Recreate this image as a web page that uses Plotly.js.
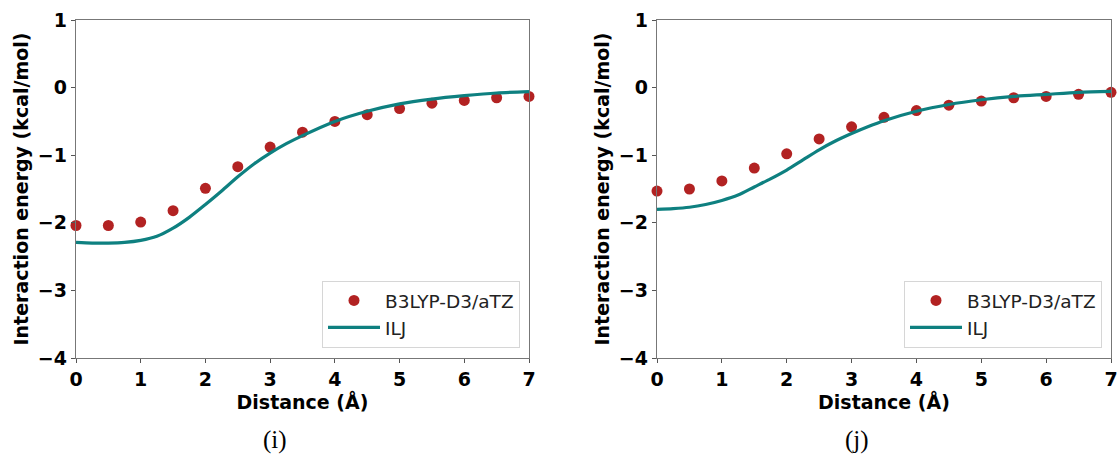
<!DOCTYPE html>
<html>
<head>
<meta charset="utf-8">
<script src="https://cdn.plot.ly/plotly-3.0.1.min.js"></script>
<style>html,body{margin:0;padding:0;background:#fff;}#chart{width:1119px;height:454px;}</style>
</head>
<body>
<div id="chart"></div>
<script>
// Distances (Å) of the B3LYP-D3/aTZ points
const distance = [0, 0.5, 1, 1.5, 2, 2.5, 3, 3.5, 4, 4.5, 5, 5.5, 6, 6.5, 7];
// Distances (Å) at which the ILJ curve was read
const curveDistance = [0, 0.25, 0.5, 0.75, 1, 1.25, 1.5, 1.75, 2, 2.25, 2.5, 2.75, 3, 3.25, 3.5, 4, 4.5, 5, 5.5, 6, 6.5, 7];

// Panel (i)
const dftI = [-2.04, -2.04, -1.99, -1.82, -1.49, -1.17, -0.88, -0.66, -0.50, -0.40, -0.31, -0.23, -0.19, -0.15, -0.13];
const iljI = [-2.29, -2.30, -2.30, -2.29, -2.26, -2.20, -2.08, -1.92, -1.73, -1.53, -1.32, -1.13, -0.97, -0.83, -0.71, -0.50, -0.35, -0.24, -0.17, -0.12, -0.08, -0.06];

// Panel (j)
const dftJ = [-1.53, -1.50, -1.38, -1.19, -0.98, -0.76, -0.58, -0.44, -0.34, -0.26, -0.20, -0.15, -0.13, -0.10, -0.07];
const iljJ = [-1.80, -1.79, -1.77, -1.73, -1.67, -1.59, -1.47, -1.35, -1.22, -1.07, -0.92, -0.79, -0.68, -0.58, -0.49, -0.35, -0.25, -0.18, -0.13, -0.10, -0.07, -0.055];

const seriesNames = ['B3LYP-D3/aTZ', 'ILJ'];
const panelLabels = ['(i)', '(j)'];
const xTicks = [0, 1, 2, 3, 4, 5, 6, 7];
const yTicks = [-4, -3, -2, -1, 0, 1];

const dotColor = '#B22222';
const lineColor = '#0E8080';

function dots(y, xa, ya, lg) {
  return {x: distance, y: y, xaxis: xa, yaxis: ya, legend: lg, type: 'scatter', mode: 'markers',
    name: seriesNames[0], marker: {color: dotColor, size: 11}, cliponaxis: false};
}
function line(y, xa, ya, lg) {
  return {x: curveDistance, y: y, xaxis: xa, yaxis: ya, legend: lg, type: 'scatter', mode: 'lines',
    name: seriesNames[1], line: {color: lineColor, width: 3.2, shape: 'spline', smoothing: 0.8}};
}

const data = [
  dots(dftI, 'x', 'y', 'legend'), line(iljI, 'x', 'y', 'legend'),
  dots(dftJ, 'x2', 'y2', 'legend2'), line(iljJ, 'x2', 'y2', 'legend2')
];

const tickFont = {family: 'DejaVu Sans', size: 19, color: '#000', weight: 'bold'};
const titleFont = {family: 'DejaVu Sans', size: 19, color: '#000', weight: 'bold'};

function xax(domain, anchor) {
  return {domain: domain, anchor: anchor, range: [0, 7], tickvals: xTicks, ticks: 'outside', ticklen: 4,
    tickcolor: '#555', showline: true, mirror: true, linecolor: '#777', linewidth: 1.2,
    showgrid: false, zeroline: false, tickfont: tickFont,
    title: {text: 'Distance (Å)', font: titleFont, standoff: 4}};
}
function yax(anchor) {
  return {anchor: anchor, range: [-4, 1], tickvals: yTicks, ticks: 'outside', ticklen: 4,
    tickcolor: '#555', showline: true, mirror: true, linecolor: '#777', linewidth: 1.2,
    showgrid: false, zeroline: false, tickfont: tickFont,
    title: {text: 'Interaction energy (kcal/mol)', font: titleFont, standoff: 4}};
}

const legendBase = {yanchor: 'bottom', y: 0.03, xanchor: 'right', bgcolor: 'rgba(255,255,255,0.85)',
  bordercolor: '#d6d6d6', borderwidth: 1, font: {family: 'DejaVu Sans', size: 18.5, color: '#222'},
  itemwidth: 52, tracegroupgap: 0};

const layout = {
  width: 1119, height: 454,
  margin: {l: 0, r: 0, t: 20, b: 96},
  paper_bgcolor: '#fff', plot_bgcolor: '#fff',
  showlegend: true,
  xaxis: xax([76/1119, 529/1119], 'y'),
  yaxis: yax('x'),
  xaxis2: xax([657/1119, 1111/1119], 'y2'),
  yaxis2: yax('x2'),
  legend: Object.assign({}, legendBase, {x: 520/1119}),
  legend2: Object.assign({}, legendBase, {x: 1102/1119}),
  annotations: [
    {text: panelLabels[0], xref: 'paper', yref: 'paper', x: 275/1119, y: -0.2426, showarrow: false,
      font: {family: 'Liberation Serif', size: 25, color: '#000'}, xanchor: 'center', yanchor: 'middle'},
    {text: panelLabels[1], xref: 'paper', yref: 'paper', x: 857/1119, y: -0.2426, showarrow: false,
      font: {family: 'Liberation Serif', size: 25, color: '#000'}, xanchor: 'center', yanchor: 'middle'}
  ]
};

Plotly.newPlot('chart', data, layout, {displayModeBar: false, staticPlot: true});
</script>
</body>
</html>
